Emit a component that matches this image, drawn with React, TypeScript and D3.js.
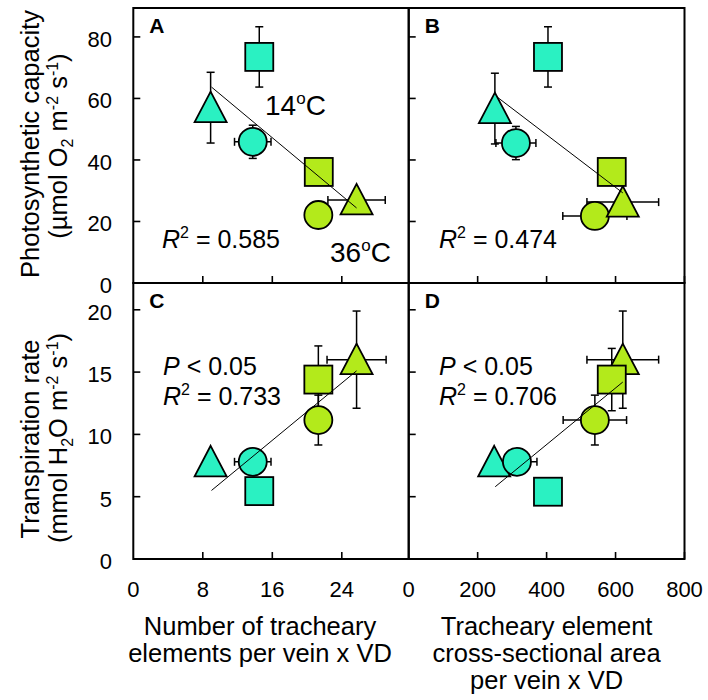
import React from "react";
import * as d3 from "d3";

// ---- data ----
const markerNames = ["cyanTriangle", "cyanCircle", "cyanSquare", "greenCircle", "greenTriangle", "greenSquare"];
const markerShapes = ["triangle", "circle", "square", "circle", "triangle", "square"];
const markerGroups = ["14", "14", "14", "36", "36", "36"];

// Panel A: tracheary number vs photosynthetic capacity
const aX = [8.9, 13.75, 14.5, 21.3, 25.7, 21.35];
const aY = [57, 45.9, 73.5, 22.1, 27.0, 36.1];
const aXErr = [0, 2.1, 0, 0, 3.3, 0];
const aYErr = [11.5, 5.4, 9.8, 0, 0, 0];
const aFit = [[9.0, 63.7], [25.7, 24.4]];

// Panel B: cross-sectional area vs photosynthetic capacity
const bX = [250, 311, 404, 540, 621, 589];
const bY = [56.7, 45.5, 73.5, 21.8, 26.3, 36.1];
const bXErr = [0, 58, 0, 93, 104, 0];
const bYErr = [11.5, 5.4, 9.8, 0, 0, 0];
const bFit = [[256, 60.5], [621, 29.3]];

// Panel C: tracheary number vs transpiration
const cX = [8.9, 13.75, 14.5, 21.3, 25.7, 21.3];
const cY = [7.8, 7.8, 5.45, 11.15, 16.0, 14.4];
const cXErr = [0, 2.1, 0, 0, 3.4, 0];
const cYErr = [0, 0, 0, 2.0, 3.9, 2.7];
const cFit = [[9.0, 5.5], [25.7, 15.1]];

// Panel D: cross-sectional area vs transpiration
const dX = [248, 314, 404, 540, 621, 589];
const dY = [7.8, 7.8, 5.4, 11.15, 16.0, 14.4];
const dXErr = [0, 58, 0, 92, 104, 0];
const dYErr = [0, 0, 0, 2.0, 3.9, 2.5];
const dFit = [[251, 5.8], [621, 14.2]];

const xTicksLeft = [0, 8, 16, 24];
const xTicksRight = [0, 200, 400, 600, 800];
const yTicksTop = [0, 20, 40, 60, 80];
const yTicksBottom = [0, 5, 10, 15, 20];

const FONT = "'Liberation Sans', Arial, Helvetica, sans-serif";
const CYAN = "#2AF1C2";
const GREEN = "#B3EA1B";

// ---- layout ----
const X0 = 133.3, X1 = 408.7, X2 = 684.5;
const Y0 = 8, Y1 = 283, Y2 = 559;

const xLeft = d3.scaleLinear().domain([0, 31.7]).range([X0, X1]);
const xRight = d3.scaleLinear().domain([0, 800]).range([X1, X2]);
const yTop = d3.scaleLinear().domain([0, 89.4]).range([Y1, Y0]);
const yBottom = d3.scaleLinear().domain([0, 22.15]).range([Y2, Y1]);

function Marker({ shape, group, cx, cy }) {
  const fill = group === "14" ? CYAN : GREEN;
  const common = { fill, stroke: "#000", strokeWidth: 1.8 };
  if (shape === "circle") return <circle cx={cx} cy={cy} r={14} {...common} />;
  if (shape === "square") return <rect x={cx - 14} y={cy - 14} width={28} height={28} {...common} />;
  const tri = d3.path();
  tri.moveTo(cx, cy - 16);
  tri.lineTo(cx + 16, cy + 14.5);
  tri.lineTo(cx - 16, cy + 14.5);
  tri.closePath();
  return <path d={tri.toString()} {...common} strokeLinejoin="miter" />;
}

function Panel({ xs, ys, xv, yv, xe, ye, fit, letter, xTicks, yTicks }) {
  const [x0, x1] = xs.range();
  const [y1, y0] = ys.range();
  const cap = 4;
  return (
    <g>
      {xTicks.filter((t) => t > 0).map((t) => (
        <line key={"xt" + t} x1={xs(t)} x2={xs(t)} y1={y1} y2={y1 - 7} stroke="#000" strokeWidth={1.6} />
      ))}
      {yTicks.filter((t) => t > 0).map((t) => (
        <line key={"yt" + t} x1={x0} x2={x0 + 7} y1={ys(t)} y2={ys(t)} stroke="#000" strokeWidth={1.6} />
      ))}
      {xv.map((v, i) => (
        <g key={"e" + i} stroke="#000" strokeWidth={1.5}>
          {ye[i] > 0 && (
            <g>
              <line x1={xs(v)} x2={xs(v)} y1={ys(yv[i] - ye[i])} y2={ys(yv[i] + ye[i])} />
              <line x1={xs(v) - cap} x2={xs(v) + cap} y1={ys(yv[i] - ye[i])} y2={ys(yv[i] - ye[i])} />
              <line x1={xs(v) - cap} x2={xs(v) + cap} y1={ys(yv[i] + ye[i])} y2={ys(yv[i] + ye[i])} />
            </g>
          )}
          {xe[i] > 0 && (
            <g>
              <line x1={xs(v - xe[i])} x2={xs(v + xe[i])} y1={ys(yv[i])} y2={ys(yv[i])} />
              <line x1={xs(v - xe[i])} x2={xs(v - xe[i])} y1={ys(yv[i]) - cap} y2={ys(yv[i]) + cap} />
              <line x1={xs(v + xe[i])} x2={xs(v + xe[i])} y1={ys(yv[i]) - cap} y2={ys(yv[i]) + cap} />
            </g>
          )}
        </g>
      ))}
      {xv.map((v, i) => (
        <Marker key={markerNames[i]} shape={markerShapes[i]} group={markerGroups[i]} cx={xs(v)} cy={ys(yv[i])} />
      ))}
      <line x1={xs(fit[0][0])} y1={ys(fit[0][1])} x2={xs(fit[1][0])} y2={ys(fit[1][1])} stroke="#000" strokeWidth={1} />
      <rect x={x0} y={y0} width={x1 - x0} height={y1 - y0} fill="none" stroke="#000" strokeWidth={2} />
      <text x={x0 + 16} y={y0 + 25} fontFamily={FONT} fontWeight="bold" fontSize={21}>{letter}</text>
    </g>
  );
}

function RText({ x, y, value }) {
  return (
    <text x={x} y={y} fontFamily={FONT} fontSize={25}>
      <tspan fontStyle="italic">R</tspan>
      <tspan fontSize={16} dy={-10}>2</tspan>
      <tspan dy={10}>{" = " + value}</tspan>
    </text>
  );
}

function Deg({ x, y, t }) {
  return (
    <text x={x} y={y} fontFamily={FONT} fontSize={28}>
      {t}
      <tspan fontSize={17} dy={-11}>o</tspan>
      <tspan dy={11}>C</tspan>
    </text>
  );
}

export default function App() {
  const tickStyle = { fontFamily: FONT, fontSize: 22 };
  const titleSize = 25.5;
  const leftTitleX = 260;
  return (
    <svg width={708} height={700} style={{ position: "absolute", left: 0, top: 0, background: "#fff" }}>
      <rect width={708} height={700} fill="#fff" />
      <Panel xs={xLeft} ys={yTop} xv={aX} yv={aY} xe={aXErr} ye={aYErr} fit={aFit} letter="A" xTicks={xTicksLeft} yTicks={yTicksTop} />
      <Panel xs={xRight} ys={yTop} xv={bX} yv={bY} xe={bXErr} ye={bYErr} fit={bFit} letter="B" xTicks={xTicksRight} yTicks={yTicksTop} />
      <Panel xs={xLeft} ys={yBottom} xv={cX} yv={cY} xe={cXErr} ye={cYErr} fit={cFit} letter="C" xTicks={xTicksLeft} yTicks={yTicksBottom} />
      <Panel xs={xRight} ys={yBottom} xv={dX} yv={dY} xe={dXErr} ye={dYErr} fit={dFit} letter="D" xTicks={xTicksRight} yTicks={yTicksBottom} />

      <Deg x={265} y={115} t="14" />
      <Deg x={330} y={262} t="36" />
      <RText x={162} y={248} value="0.585" />
      <RText x={439} y={248} value="0.474" />
      <text x={163} y={375} fontFamily={FONT} fontSize={25}><tspan fontStyle="italic">P</tspan> &lt; 0.05</text>
      <RText x={163} y={405} value="0.733" />
      <text x={439} y={375} fontFamily={FONT} fontSize={25}><tspan fontStyle="italic">P</tspan> &lt; 0.05</text>
      <RText x={439} y={405} value="0.706" />

      {yTicksTop.map((t) => (
        <text key={"yl" + t} x={112} y={yTop(t) + 10} textAnchor="end" {...tickStyle}>{t}</text>
      ))}
      {yTicksBottom.map((t) => (
        <text key={"yb" + t} x={112} y={yBottom(t) + 10} textAnchor="end" {...tickStyle}>{t}</text>
      ))}
      {xTicksLeft.map((t) => (
        <text key={"xl" + t} x={xLeft(t)} y={597} textAnchor="middle" {...tickStyle}>{t}</text>
      ))}
      {xTicksRight.map((t) => (
        <text key={"xr" + t} x={xRight(t)} y={597} textAnchor="middle" {...tickStyle}>{t}</text>
      ))}

      <g transform="translate(39, 144) rotate(-90)">
        <text textAnchor="middle" fontFamily={FONT} fontSize={titleSize}>Photosynthetic capacity</text>
      </g>
      <g transform="translate(67, 146) rotate(-90)">
        <text textAnchor="middle" fontFamily={FONT} fontSize={titleSize}>
          (µmol O<tspan fontSize={16} dy={6}>2</tspan><tspan dy={-6}> m</tspan>
          <tspan fontSize={16} dy={-9}>-2</tspan><tspan dy={9}> s</tspan>
          <tspan fontSize={16} dy={-9}>-1</tspan><tspan dy={9}>)</tspan>
        </text>
      </g>
      <g transform="translate(39, 439) rotate(-90)">
        <text textAnchor="middle" fontFamily={FONT} fontSize={titleSize}>Transpiration rate</text>
      </g>
      <g transform="translate(67, 438) rotate(-90)">
        <text textAnchor="middle" fontFamily={FONT} fontSize={titleSize}>
          (mmol H<tspan fontSize={16} dy={6}>2</tspan><tspan dy={-6}>O m</tspan>
          <tspan fontSize={16} dy={-9}>-2</tspan><tspan dy={9}> s</tspan>
          <tspan fontSize={16} dy={-9}>-1</tspan><tspan dy={9}>)</tspan>
        </text>
      </g>

      <text x={leftTitleX} y={635} textAnchor="middle" fontFamily={FONT} fontSize={titleSize}>Number of tracheary</text>
      <text x={leftTitleX} y={662} textAnchor="middle" fontFamily={FONT} fontSize={titleSize}>elements per vein x VD</text>
      <text x={(X1 + X2) / 2} y={635} textAnchor="middle" fontFamily={FONT} fontSize={titleSize}>Tracheary element</text>
      <text x={(X1 + X2) / 2} y={662} textAnchor="middle" fontFamily={FONT} fontSize={titleSize}>cross-sectional area</text>
      <text x={(X1 + X2) / 2} y={689} textAnchor="middle" fontFamily={FONT} fontSize={titleSize}>per vein x VD</text>
    </svg>
  );
}
